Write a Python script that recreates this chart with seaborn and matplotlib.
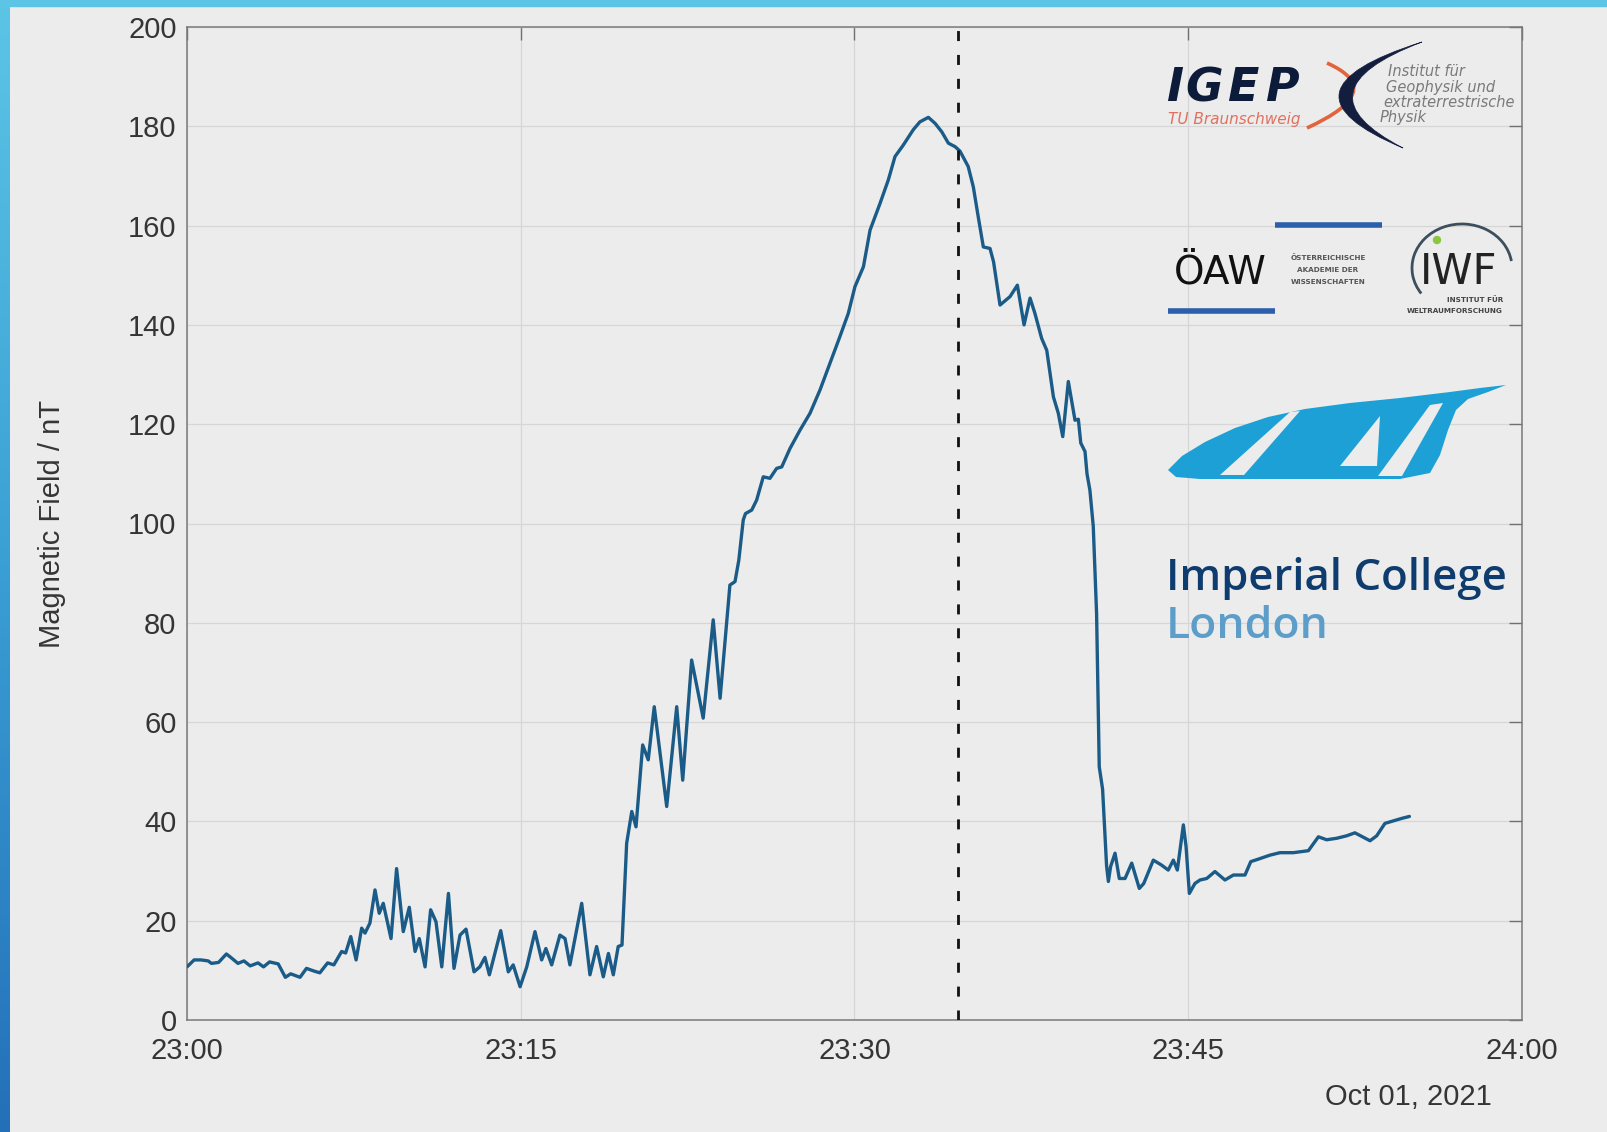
import numpy as np
import pandas as pd
import matplotlib
matplotlib.use("Agg")
import matplotlib.pyplot as plt
import seaborn as sns
from matplotlib.path import Path
from matplotlib.patches import PathPatch, Polygon, Arc, Rectangle, Circle
from matplotlib.colors import LinearSegmentedColormap

# ---------------- data (minutes after 23:00, field in nT) ----------------
minutes_after_2300 = [
    0.0, 0.32, 0.63, 0.95, 1.1, 1.42, 1.77, 1.97, 2.29, 2.56, 2.84, 3.19, 3.44, 3.71,
    4.1, 4.42, 4.66, 5.08, 5.37, 5.68, 5.97, 6.32, 6.6, 6.95, 7.13, 7.36, 7.6, 7.85,
    8.0, 8.22, 8.45, 8.64, 8.82, 9.17, 9.42, 9.72, 9.99, 10.25, 10.44, 10.7, 10.95,
    11.19, 11.45, 11.75, 12.0, 12.27, 12.54, 12.9, 13.16, 13.39, 13.59, 14.1, 14.44,
    14.66, 14.97, 15.27, 15.64, 15.94, 16.13, 16.39, 16.76, 16.99, 17.21, 17.74, 18.11,
    18.41, 18.71, 18.94, 19.16, 19.38, 19.55, 19.76, 19.99, 20.18, 20.48, 20.73, 21.0,
    21.56, 22.01, 22.28, 22.68, 23.2, 23.65, 23.96, 24.4, 24.63, 24.8, 25.0, 25.1,
    25.38, 25.6, 25.9, 26.2, 26.5, 26.73, 27.1, 27.55, 28.0, 28.45, 28.9, 29.34, 29.72,
    30.02, 30.4, 30.7, 31.15, 31.52, 31.82, 32.19, 32.64, 32.94, 33.32, 33.62, 33.92,
    34.22, 34.52, 34.74, 35.11, 35.34, 35.56, 35.79, 36.09, 36.25, 36.54, 36.99, 37.32,
    37.62, 37.89, 38.11, 38.41, 38.64, 38.94, 39.16, 39.36, 39.61, 39.91, 40.06, 40.17,
    40.36, 40.45, 40.58, 40.73, 40.88, 41.0, 41.15, 41.33, 41.41, 41.51, 41.71, 41.9,
    42.16, 42.46, 42.8, 43.0, 43.43, 43.8, 44.1, 44.33, 44.51, 44.78, 44.9, 45.05, 45.3,
    45.53, 45.83, 46.2, 46.65, 47.03, 47.55, 47.81, 48.15, 48.67, 49.12, 49.72, 50.4,
    50.85, 51.22, 51.67, 52.12, 52.49, 52.87, 53.17, 53.47, 53.84, 54.22, 54.59, 54.94,
]
field_nT = [
    10.7, 12.1, 12.1, 11.9, 11.4, 11.6, 13.3, 12.6, 11.4, 11.9, 10.9, 11.5, 10.7, 11.7,
    11.3, 8.6, 9.3, 8.6, 10.4, 9.9, 9.5, 11.5, 11.1, 13.8, 13.5, 16.8, 12.1, 18.5,
    17.5, 19.5, 26.2, 21.5, 23.5, 16.4, 30.5, 17.8, 22.7, 13.8, 16.4, 10.7, 22.2,
    19.8, 10.7, 25.5, 10.4, 17.1, 18.3, 9.7, 10.7, 12.6, 9.1, 18.0, 9.7,
    11.1, 6.7, 10.7, 17.8, 12.1, 14.4, 11.1, 17.1, 16.4, 11.1, 23.5, 9.1,
    14.8, 8.7, 13.4, 9.1, 14.8, 15.1, 35.6, 42.0, 38.9, 55.4, 52.4, 63.1,
    43.0, 63.1, 48.3, 72.5, 60.8, 80.6, 64.8, 87.6, 88.3, 92.6, 100.7, 102.0,
    102.7, 104.7, 109.4, 109.1, 111.1, 111.4, 115.1, 118.8, 122.2, 126.9, 132.3, 137.6, 142.3,
    147.7, 151.7, 159.1, 164.5, 169.2, 173.9, 176.2, 179.3, 180.9, 181.8, 180.6, 178.9,
    176.6, 175.9, 175.0, 171.9, 167.8, 161.8, 155.7, 155.4, 152.7, 144.0, 145.7, 148.0,
    140.0, 145.4, 142.3, 137.3, 134.9, 125.5, 122.2, 117.5, 128.6, 120.8, 121.0, 116.2,
    114.5, 110.0, 106.7, 99.5, 81.9, 51.0, 46.5, 31.0, 27.9, 30.9, 33.6, 28.5,
    28.5, 31.6, 26.5, 27.5, 32.2, 31.2, 30.2, 32.2, 30.2, 39.3, 35.0, 25.5, 27.5,
    28.2, 28.5, 29.9, 28.2, 29.2, 29.2, 31.9, 32.4, 33.2, 33.7, 33.7, 34.1,
    36.9, 36.3, 36.6, 37.1, 37.7, 36.8, 36.1, 37.1, 39.6, 40.1, 40.6, 41.0,
]
x_tick_minutes = [0, 15, 30, 45, 60]
x_tick_labels = ["23:00", "23:15", "23:30", "23:45", "24:00"]
y_ticks = [0, 20, 40, 60, 80, 100, 120, 140, 160, 180, 200]
marker_minute = 34.67
date_label = "Oct 01, 2021"
y_label = "Magnetic Field / nT"

# ---------------- style ----------------
BG = "#ececec"
LINE = "#1b5b87"
TXT = "#353535"

sns.set_theme(style="white")
plt.rcParams["font.family"] = ["Liberation Sans", "DejaVu Sans"]

W, H = 1608, 1132
fig = plt.figure(figsize=(W / 100, H / 100), dpi=100, facecolor=BG)
ax = fig.add_axes([187 / W, (H - 1020) / H, (1522 - 187) / W, (1020 - 27) / H])
ax.set_facecolor(BG)

df = pd.DataFrame({"minute": minutes_after_2300, "field": field_nT})
sns.lineplot(data=df, x="minute", y="field", ax=ax, color=LINE, linewidth=2.4,
             estimator=None, sort=False, zorder=3)
ax.axvline(marker_minute, color="#111111", linewidth=2.0, linestyle=(0, (3.6, 5.0)), zorder=4)

ax.set_xlim(0, 60)
ax.set_ylim(0, 200)
ax.set_xticks(x_tick_minutes, x_tick_labels)
ax.set_yticks(y_ticks)
ax.grid(True, color="#d6d6d6", linewidth=0.9, zorder=0)
ax.tick_params(direction="in", length=9.5, width=1, color="#707070",
               labelsize=21, labelcolor=TXT, top=True, right=True)
ax.tick_params(axis="x", pad=12)
ax.tick_params(axis="y", pad=7.5)
for s in ax.spines.values():
    s.set_visible(True)
    s.set_color("#7a7a7a")
    s.set_linewidth(1.1)
ax.set_xlabel("")
ax.set_ylabel(y_label, fontsize=21, color=TXT)
ax.yaxis.set_label_coords(-0.091, 0.5)

# ---------------- overlay in pixel coordinates (borders, logos, date) ----------------
lax = fig.add_axes([0, 0, 1, 1], zorder=10)
lax.patch.set_alpha(0)
lax.axis("off")

grad = np.linspace(0, 1, 256).reshape(-1, 1)
cmap = LinearSegmentedColormap.from_list("edge", ["#5cc5e6", "#3a9fd4", "#2470b8"])
lax.imshow(grad, extent=[0, 10, H, 0], cmap=cmap, aspect="auto", zorder=1)
lax.add_patch(Rectangle((0, 0), W, 6, color="#5cc5e6", zorder=1))
lax.set_xlim(0, W)
lax.set_ylim(H, 0)

# date label
lax.text(1492, 1097, date_label, fontsize=21, color=TXT, ha="right", va="center")

# IGEP logo
for xx, ch in [(1166, "I"), (1185, "G"), (1227, "E"), (1265, "P")]:
    lax.text(xx, 101, ch, fontsize=33, color="#0d1b3a", family="DejaVu Sans",
             style="oblique", weight="bold", ha="left", va="baseline")
lax.text(1168, 124, "TU Braunschweig", fontsize=11, color="#e0705e", family="DejaVu Sans",
         style="oblique", ha="left", va="baseline")
orange = Path([(1327, 63), (1389, 90.5), (1307, 128)], [Path.MOVETO, Path.CURVE3, Path.CURVE3])
lax.add_patch(PathPatch(orange, facecolor="none", edgecolor="#e2633c", lw=2.6, zorder=3))
cres = Path([(1422, 42), (1266, 91), (1403, 148), (1293, 91), (1422, 42), (1422, 42)],
            [Path.MOVETO, Path.CURVE3, Path.CURVE3, Path.CURVE3, Path.CURVE3, Path.CLOSEPOLY])
lax.add_patch(PathPatch(cres, facecolor="#131d3d", edgecolor="#131d3d", lw=0.5, zorder=4))
for xx, yy, s in [(1388, 76, "Institut für"), (1386, 92, "Geophysik und"),
                  (1383, 107, "extraterrestrische"), (1380, 122, "Physik")]:
    lax.text(xx, yy, s, fontsize=10.5, color="#7a7a7a", style="oblique",
             family="DejaVu Sans", ha="left", va="baseline")

# ÖAW logo
lax.text(1174, 283, "ÖAW", fontsize=28, color="#111111", family="DejaVu Sans",
         ha="left", va="baseline")
lax.plot([1275, 1382], [225, 225], color="#2b5fab", lw=4, solid_capstyle="butt")
lax.plot([1168, 1275], [311, 311], color="#2b5fab", lw=4, solid_capstyle="butt")
for yy, s in [(260, "ÖSTERREICHISCHE"), (272, "AKADEMIE DER"), (284, "WISSENSCHAFTEN")]:
    lax.text(1328, yy, s, fontsize=5.2, color="#555555", weight="bold",
             family="DejaVu Sans", ha="center", va="baseline")

# IWF logo
lax.add_patch(Arc((1462, 268), 100, 88, theta1=148, theta2=352,
                  color="#3d4f5c", lw=2.0, zorder=3))
lax.add_patch(Circle((1437, 240), 3.5, color="#8cc63f", zorder=4))
lax.text(1420, 284, "IWF", fontsize=30, color="#222222", family="DejaVu Sans",
         ha="left", va="baseline")
lax.text(1503, 301.5, "INSTITUT FÜR", fontsize=5.2, color="#444444", weight="bold",
         family="DejaVu Sans", ha="right", va="baseline")
lax.text(1503, 313, "WELTRAUMFORSCHUNG", fontsize=5.2, color="#444444", weight="bold",
         family="DejaVu Sans", ha="right", va="baseline")

# SAS swoosh (approximate)
body = [(1168, 470), (1182, 456), (1205, 442), (1235, 428), (1268, 417), (1305, 409),
        (1350, 403), (1400, 398), (1450, 392), (1480, 388), (1506, 385), (1488, 392),
        (1468, 399), (1456, 410), (1448, 430), (1440, 455), (1430, 473), (1400, 479),
        (1300, 479), (1200, 479), (1176, 477)]
lax.add_patch(Polygon(body, closed=True, facecolor="#1ca0d6", edgecolor="none", zorder=3))
for cut in [[(1220, 475), (1290, 412), (1300, 411), (1244, 475)],
            [(1340, 466), (1380, 416), (1377, 466)],
            [(1378, 476), (1430, 405), (1443, 403), (1402, 476)]]:
    lax.add_patch(Polygon(cut, closed=True, facecolor=BG, edgecolor="none", zorder=4))

# Imperial College London
lax.text(1166, 590, "Imperial College", fontsize=31.5, color="#0e3c6e", family="Open Sans",
         weight="semibold", ha="left", va="baseline")
lax.text(1166, 638, "London", fontsize=32, color="#5c9dc9", family="Open Sans",
         weight="semibold", ha="left", va="baseline")

fig.savefig("out.png", dpi=100, facecolor=BG)
